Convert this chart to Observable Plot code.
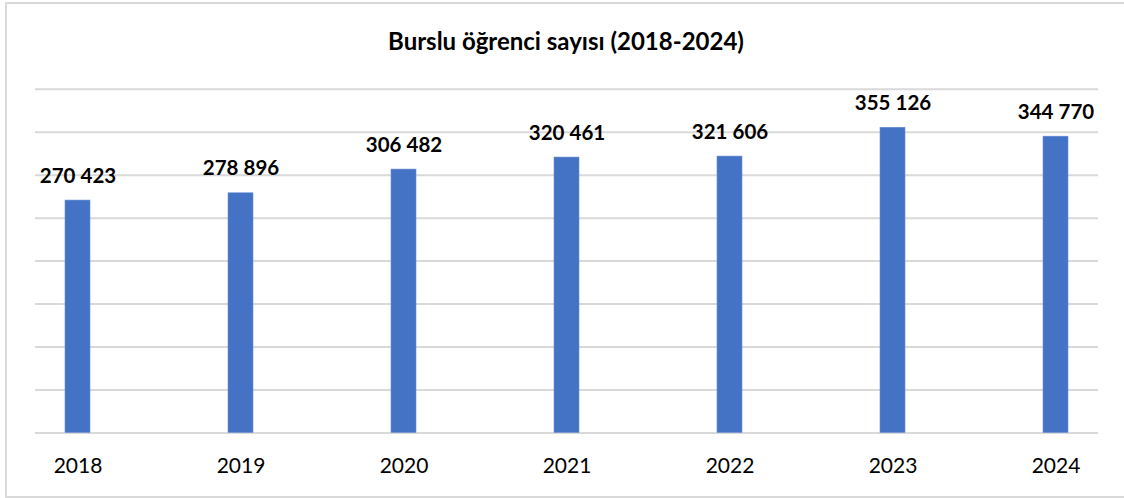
<!DOCTYPE html>
<html>
<head>
<meta charset="utf-8">
<script src="https://cdn.jsdelivr.net/npm/d3@7"></script>
<script src="https://cdn.jsdelivr.net/npm/@observablehq/plot@0.6"></script>
<style>
  html, body { margin: 0; padding: 0; background: #fff; overflow: hidden; }
  #wrap { position: relative; width: 1124px; height: 498px; overflow: hidden; font-family: Lato, "Open Sans", sans-serif; }
  #title { height: 64px; box-sizing: border-box; padding-top: 27px; text-align: center; font-weight: 700; font-size: 24px; line-height: 28px; color: #000; padding-left: 8px; }
  #border { position: absolute; left: 5px; top: 2px; width: 1140px; height: 492px; border: 2px solid #d9d9d9; border-right: none; pointer-events: none; }
  svg { display: block; }
</style>
</head>
<body>
<div id="wrap">
  <div id="border"></div>
  <div id="title">Burslu öğrenci sayısı (2018-2024)</div>
  <div id="chart"></div>
</div>
<script>
const years = ["2018", "2019", "2020", "2021", "2022", "2023", "2024"];
const students = [270423, 278896, 306482, 320461, 321606, 355126, 344770];
const gridValues = [0, 50000, 100000, 150000, 200000, 250000, 300000, 350000, 400000];

const fmt = d3.formatLocale({decimal: ",", thousands: " ", grouping: [3], currency: ["", ""]}).format(",d");
const data = years.map((y, i) => ({year: y, value: students[i]}));

const chart = Plot.plot({
  width: 1124,
  height: 434,
  marginLeft: 35,
  marginRight: 26,
  marginTop: 24.7,
  marginBottom: 65.5,
  style: {fontFamily: "Lato, 'Open Sans', sans-serif", background: "transparent", color: "#000"},
  x: {type: "band", domain: years, range: [-5.75, 1138.75], paddingInner: 0.844, paddingOuter: 0.422, label: null},
  y: {domain: [0, 400000], label: null, axis: null},
  marks: [
    Plot.gridY(gridValues, {stroke: "#d9d9d9", strokeOpacity: 1, strokeWidth: 2}),
    Plot.barY(data, {x: "year", y: "value", fill: "#4472c4", stroke: "#6a8fd6", strokeWidth: 0.6}),
    Plot.text(data, {x: "year", y: "value", text: d => fmt(d.value), dy: -18, lineAnchor: "bottom", fontWeight: 700, fontSize: 20.5, fill: "#000"}),
    Plot.axisX({tickSize: 0, tickPadding: 25, fontSize: 21, fill: "#000", label: null})
  ]
});
document.getElementById("chart").appendChild(chart);
</script>
</body>
</html>
